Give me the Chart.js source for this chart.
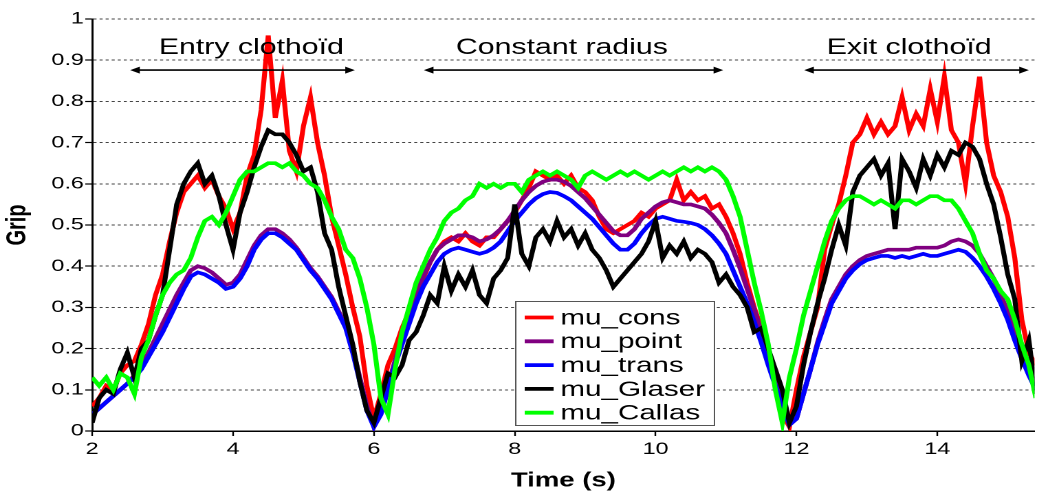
<!DOCTYPE html>
<html>
<head>
<meta charset="utf-8">
<script src="https://cdn.jsdelivr.net/npm/chart.js@4.4.1/dist/chart.umd.min.js"></script>
<style>
  html, body { margin: 0; padding: 0; background: #fff; overflow: hidden; }
  #wrap { width: 754px; height: 493px; transform: scaleX(1.3753); transform-origin: 0 0; }
</style>
</head>
<body>
<div id="wrap"><canvas id="gripChart"></canvas></div>
<script>
// time axis (s)
const times = [
  2.0, 2.1, 2.2, 2.3, 2.4, 2.5, 2.6, 2.7, 2.8, 2.9,
  3.0, 3.1, 3.2, 3.3, 3.4, 3.5, 3.6, 3.7, 3.8, 3.9,
  4.0, 4.1, 4.2, 4.3, 4.4, 4.5, 4.6, 4.7, 4.8, 4.9,
  5.0, 5.1, 5.2, 5.3, 5.4, 5.5, 5.6, 5.7, 5.8, 5.9,
  6.0, 6.1, 6.2, 6.3, 6.4, 6.5, 6.6, 6.7, 6.8, 6.9,
  7.0, 7.1, 7.2, 7.3, 7.4, 7.5, 7.6, 7.7, 7.8, 7.9,
  8.0, 8.1, 8.2, 8.3, 8.4, 8.5, 8.6, 8.7, 8.8, 8.9,
  9.0, 9.1, 9.2, 9.3, 9.4, 9.5, 9.6, 9.7, 9.8, 9.9,
  10.0, 10.1, 10.2, 10.3, 10.4, 10.5, 10.6, 10.7, 10.8, 10.9,
  11.0, 11.1, 11.2, 11.3, 11.4, 11.5, 11.6, 11.7, 11.8, 11.9,
  12.0, 12.1, 12.2, 12.3, 12.4, 12.5, 12.6, 12.7, 12.8, 12.9,
  13.0, 13.1, 13.2, 13.3, 13.4, 13.5, 13.6, 13.7, 13.8, 13.9,
  14.0, 14.1, 14.2, 14.3, 14.4, 14.5, 14.6, 14.7, 14.8, 14.9,
  15.0, 15.1, 15.2, 15.3, 15.4
];

const muCons = [
  0.06, 0.08, 0.11, 0.10, 0.14, 0.16, 0.17, 0.21, 0.26, 0.33,
  0.38, 0.46, 0.53, 0.58, 0.60, 0.62, 0.59, 0.61, 0.57, 0.54,
  0.49, 0.53, 0.62, 0.67, 0.78, 0.96, 0.76, 0.85, 0.68, 0.63,
  0.74, 0.81, 0.70, 0.62, 0.52, 0.45, 0.38, 0.30, 0.23, 0.11,
  0.03, 0.09, 0.16, 0.20, 0.25, 0.29, 0.33, 0.37, 0.41, 0.44,
  0.46, 0.47, 0.46, 0.48, 0.46, 0.45, 0.47, 0.47, 0.49, 0.51,
  0.53, 0.56, 0.59, 0.63, 0.62, 0.61, 0.62, 0.60, 0.62, 0.59,
  0.58, 0.56, 0.52, 0.49, 0.48, 0.49, 0.50, 0.51, 0.53, 0.52,
  0.54, 0.55, 0.56, 0.61, 0.56, 0.58, 0.56, 0.57, 0.54, 0.55,
  0.52, 0.48, 0.43, 0.36, 0.30, 0.25, 0.20, 0.12, 0.04, 0.01,
  0.10, 0.18, 0.24, 0.30, 0.44, 0.50, 0.55, 0.62, 0.70, 0.72,
  0.76, 0.72, 0.75, 0.72, 0.74, 0.81, 0.73, 0.77, 0.74, 0.83,
  0.75, 0.86, 0.73, 0.70, 0.60, 0.74, 0.86, 0.70, 0.62, 0.58,
  0.52, 0.42, 0.27, 0.19, 0.16
];

const muPoint = [
  0.04, 0.055, 0.07, 0.085, 0.10, 0.115, 0.135, 0.16, 0.19, 0.225,
  0.26, 0.295, 0.33, 0.36, 0.39, 0.40, 0.395, 0.385, 0.37, 0.355,
  0.36, 0.38, 0.415, 0.45, 0.475, 0.49, 0.49, 0.48, 0.465, 0.445,
  0.42, 0.395, 0.375, 0.35, 0.325, 0.29, 0.255, 0.20, 0.13, 0.06,
  0.01, 0.045, 0.11, 0.17, 0.225, 0.28, 0.33, 0.375, 0.41, 0.44,
  0.455, 0.465, 0.475, 0.475, 0.47, 0.46, 0.465, 0.475, 0.49, 0.51,
  0.535, 0.56, 0.58, 0.595, 0.605, 0.61, 0.61, 0.605, 0.595, 0.58,
  0.565, 0.545, 0.525, 0.505, 0.485, 0.475, 0.475, 0.49, 0.515, 0.53,
  0.545, 0.555, 0.56, 0.555, 0.55, 0.55, 0.545, 0.54, 0.525, 0.505,
  0.48, 0.44, 0.395, 0.345, 0.295, 0.24, 0.18, 0.125, 0.07, 0.015,
  0.03, 0.09, 0.15, 0.215, 0.27, 0.32, 0.35, 0.38, 0.40, 0.415,
  0.425, 0.43, 0.435, 0.44, 0.44, 0.44, 0.44, 0.445, 0.445, 0.445,
  0.445, 0.45, 0.46, 0.465, 0.46, 0.45, 0.43, 0.40, 0.37, 0.33,
  0.29, 0.24, 0.19, 0.15, 0.11
];

const muTrans = [
  0.04, 0.055, 0.07, 0.085, 0.10, 0.115, 0.13, 0.15, 0.18, 0.21,
  0.24, 0.275, 0.31, 0.345, 0.375, 0.385, 0.38, 0.37, 0.36, 0.345,
  0.35, 0.37, 0.40, 0.44, 0.465, 0.48, 0.48, 0.47, 0.455, 0.44,
  0.415, 0.39, 0.37, 0.345, 0.32, 0.285, 0.25, 0.19, 0.12, 0.05,
  0.01, 0.04, 0.10, 0.16, 0.21, 0.26, 0.31, 0.35, 0.38, 0.41,
  0.43, 0.44, 0.445, 0.44, 0.435, 0.43, 0.435, 0.445, 0.46, 0.485,
  0.51, 0.53, 0.55, 0.565, 0.575, 0.58, 0.578, 0.57, 0.56, 0.545,
  0.53, 0.515, 0.495, 0.475, 0.455, 0.44, 0.44, 0.455, 0.48, 0.50,
  0.515, 0.52, 0.515, 0.51, 0.508, 0.505, 0.50, 0.49, 0.475, 0.455,
  0.43, 0.39, 0.35, 0.31, 0.265, 0.215, 0.16, 0.11, 0.06, 0.015,
  0.03, 0.09, 0.15, 0.21, 0.26, 0.31, 0.34, 0.37, 0.39, 0.405,
  0.415, 0.42, 0.425, 0.425, 0.42, 0.425, 0.42, 0.425, 0.43, 0.425,
  0.425, 0.43, 0.435, 0.44, 0.435, 0.42, 0.40, 0.375, 0.345, 0.31,
  0.27, 0.22, 0.175, 0.135, 0.10
];

const muGlaser = [
  0.02, 0.08, 0.10, 0.09, 0.15, 0.19, 0.13, 0.20, 0.22, 0.28,
  0.33, 0.44, 0.55, 0.60, 0.63, 0.65, 0.60, 0.62, 0.57, 0.50,
  0.44, 0.53, 0.58, 0.64, 0.69, 0.73, 0.72, 0.72, 0.70, 0.67,
  0.63, 0.64, 0.58, 0.48, 0.44, 0.35, 0.28, 0.21, 0.12, 0.05,
  0.02, 0.08, 0.14, 0.13, 0.16, 0.22, 0.24, 0.28, 0.33, 0.31,
  0.40, 0.34, 0.38, 0.35, 0.39, 0.33, 0.31, 0.37, 0.39, 0.42,
  0.55, 0.43, 0.40, 0.47, 0.49, 0.46, 0.51, 0.47, 0.49, 0.45,
  0.48, 0.44, 0.42, 0.39, 0.35, 0.37, 0.39, 0.41, 0.43, 0.46,
  0.51, 0.42, 0.45, 0.43, 0.46, 0.42, 0.44, 0.43, 0.41, 0.36,
  0.38, 0.35, 0.33, 0.30, 0.24, 0.25, 0.20, 0.15, 0.10, 0.02,
  0.06, 0.16, 0.24, 0.31, 0.37, 0.44, 0.50, 0.45, 0.58, 0.62,
  0.64, 0.66, 0.62, 0.65, 0.49, 0.66, 0.63, 0.59, 0.66, 0.62,
  0.67, 0.64, 0.68, 0.67, 0.70, 0.69, 0.66, 0.60, 0.55, 0.47,
  0.38, 0.32, 0.17, 0.22, 0.09
];

const muCallas = [
  0.13, 0.11, 0.13, 0.10, 0.14, 0.13, 0.09, 0.18, 0.22, 0.28,
  0.33, 0.36, 0.38, 0.39, 0.42, 0.47, 0.51, 0.52, 0.50, 0.53,
  0.57, 0.61, 0.63, 0.63, 0.64, 0.65, 0.65, 0.64, 0.65, 0.63,
  0.62, 0.60, 0.59, 0.56, 0.52, 0.49, 0.44, 0.42, 0.37, 0.30,
  0.21, 0.08, 0.04, 0.15, 0.24, 0.30, 0.36, 0.40, 0.44, 0.47,
  0.51, 0.53, 0.54, 0.56, 0.57, 0.60, 0.59, 0.60, 0.59, 0.60,
  0.60, 0.58, 0.61, 0.62, 0.63, 0.62, 0.63, 0.62, 0.61, 0.59,
  0.62, 0.63, 0.62, 0.61, 0.62, 0.63, 0.62, 0.63, 0.62, 0.61,
  0.62, 0.63, 0.62, 0.63, 0.64, 0.63, 0.64, 0.63, 0.64, 0.63,
  0.61, 0.57, 0.52, 0.44, 0.36, 0.29, 0.21, 0.10, 0.02, 0.13,
  0.20, 0.28, 0.34, 0.40, 0.46, 0.51, 0.54, 0.56, 0.57, 0.57,
  0.56, 0.55, 0.56, 0.55, 0.54, 0.56, 0.56, 0.55, 0.56, 0.57,
  0.57, 0.56, 0.56, 0.54, 0.51, 0.48, 0.43, 0.39, 0.37, 0.34,
  0.32, 0.27, 0.21, 0.16, 0.08
];

const seriesNames = ['mu_cons', 'mu_point', 'mu_trans', 'mu_Glaser', 'mu_Callas'];
const seriesColors = ['#ff0000', '#800080', '#0000ff', '#000000', '#00ff00'];
const seriesValues = [muCons, muPoint, muTrans, muGlaser, muCallas];

// manoeuvre phases (time span of each arrow)
const phaseNames = ['Entry clothoïd', 'Constant radius', 'Exit clothoïd'];
const phaseStart = [2.54, 6.71, 12.11];
const phaseEnd = [5.73, 10.96, 15.30];
const phaseLabelAt = [4.26, 8.67, 13.6];

const FONT = "'Liberation Sans', Arial, sans-serif";

// arrows + titles above the curves
const phasePlugin = {
    id: 'phases',
    afterDatasetsDraw(chart) {
        const ctx = chart.ctx;
        const xs = chart.scales.x, ys = chart.scales.y;
        const yArrow = ys.getPixelForValue(0.876);
        const yText = ys.getPixelForValue(0.915);
        ctx.save();
        ctx.fillStyle = '#000';
        ctx.strokeStyle = '#000';
        ctx.lineWidth = 1.6;
        ctx.font = '22px ' + FONT;
        ctx.textAlign = 'center';
        ctx.textBaseline = 'alphabetic';
        phaseNames.forEach((name, i) => {
            const x1 = xs.getPixelForValue(phaseStart[i]);
            const x2 = xs.getPixelForValue(phaseEnd[i]);
            ctx.beginPath();
            ctx.moveTo(x1 + 4, yArrow);
            ctx.lineTo(x2 - 4, yArrow);
            ctx.stroke();
            // heads
            ctx.beginPath();
            ctx.moveTo(x1, yArrow);
            ctx.lineTo(x1 + 7, yArrow - 3.5);
            ctx.lineTo(x1 + 7, yArrow + 3.5);
            ctx.closePath();
            ctx.fill();
            ctx.beginPath();
            ctx.moveTo(x2, yArrow);
            ctx.lineTo(x2 - 7, yArrow - 3.5);
            ctx.lineTo(x2 - 7, yArrow + 3.5);
            ctx.closePath();
            ctx.fill();
            ctx.fillText(name, xs.getPixelForValue(phaseLabelAt[i]), yText);
        });
        ctx.restore();
    }
};

// boxed legend sitting inside the plot
const legendBoxPlugin = {
    id: 'legendBox',
    afterDraw(chart) {
        const ctx = chart.ctx;
        const left = 374.5, top = 301, w = 145.5, h = 125;
        ctx.save();
        ctx.fillStyle = '#fff';
        ctx.fillRect(left, top, w, h);
        ctx.strokeStyle = '#555';
        ctx.lineWidth = 1;
        ctx.strokeRect(left + 0.5, top + 0.5, w - 1, h - 1);
        ctx.font = '21.5px ' + FONT;
        ctx.textBaseline = 'middle';
        ctx.textAlign = 'left';
        seriesNames.forEach((name, i) => {
            const y = top + 16.5 + i * 23.8;
            ctx.strokeStyle = seriesColors[i];
            ctx.lineWidth = 3.8;
            ctx.beginPath();
            ctx.moveTo(left + 7, y);
            ctx.lineTo(left + 28, y);
            ctx.stroke();
            ctx.fillStyle = '#000';
            ctx.fillText(name, left + 33, y + 1);
        });
        ctx.restore();
    }
};

const datasets = seriesNames.map((name, i) => ({
    label: name,
    data: times.map((t, k) => ({ x: t, y: seriesValues[i][k] })),
    borderColor: seriesColors[i],
    backgroundColor: seriesColors[i],
    borderWidth: 3.6,
    pointRadius: 0,
    tension: 0,
    fill: false,
    order: 5 - i   // later series on top, like the original
}));

const ctx = document.getElementById('gripChart').getContext('2d');
const gripChart = new Chart(ctx, {
    type: 'line',
    data: { datasets: datasets },
    plugins: [phasePlugin, legendBoxPlugin],
    options: {
        responsive: true,
        maintainAspectRatio: false,
        animation: false,
        devicePixelRatio: 2,
        layout: { padding: { top: 19, right: 1, left: 0, bottom: 0 } },
        plugins: {
            legend: { display: false },
            tooltip: { enabled: false }
        },
        scales: {
            x: {
                type: 'linear',
                min: 2,
                max: 15.38,
                ticks: {
                    stepSize: 2,
                    includeBounds: false,
                    color: '#000',
                    padding: 3,
                    maxRotation: 0,
                    font: { family: FONT, size: 17 }
                },
                grid: {
                    drawOnChartArea: false,
                    drawTicks: true,
                    tickLength: 5,
                    tickColor: '#000',
                    tickWidth: 1.2
                },
                border: { display: true, color: '#000', width: 1.5 },
                title: {
                    display: true,
                    text: 'Time (s)',
                    color: '#000',
                    padding: { top: 0, bottom: 0 },
                    font: { family: FONT, size: 20, weight: 'bold' }
                },
                afterFit(scale) { scale.height = 62; }
            },
            y: {
                min: 0,
                max: 1,
                ticks: {
                    stepSize: 0.1,
                    color: '#000',
                    padding: 1,
                    font: { family: FONT, size: 17 },
                    callback: v => String(+v.toFixed(1))
                },
                grid: {
                    color: '#444',
                    lineWidth: 1,
                    tickLength: 5,
                    tickColor: '#000',
                    tickWidth: 1.2
                },
                border: { display: true, color: '#000', width: 1.5, dash: [2.2, 2.2] },
                title: {
                    display: true,
                    text: 'Grip',
                    color: '#000',
                    padding: { top: 1, bottom: 0 },
                    font: { family: FONT, size: 20, weight: 'bold' }
                },
                afterFit(scale) { scale.width = 67; }
            }
        }
    }
});
</script>
</body>
</html>
